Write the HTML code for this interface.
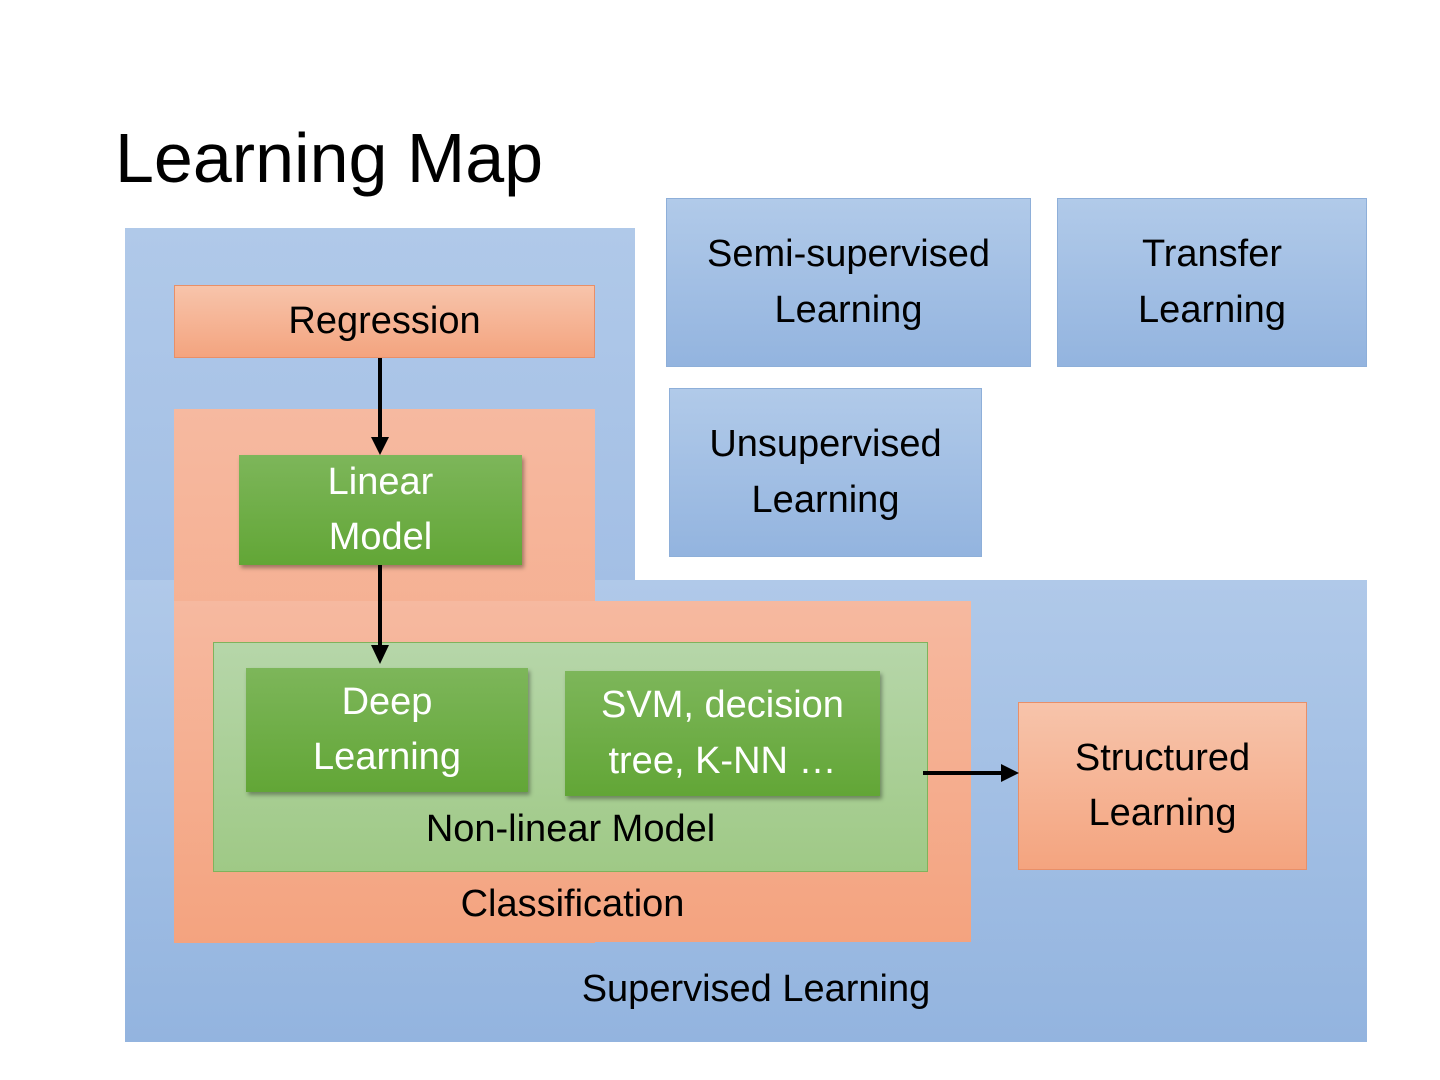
<!DOCTYPE html>
<html><head><style>
body{margin:0;width:1440px;height:1080px;background:#fff;position:relative;overflow:hidden;font-family:"Liberation Sans",sans-serif;}
.a{position:absolute;box-sizing:border-box;}
.t{display:flex;align-items:center;justify-content:center;text-align:center;line-height:1.45;font-size:38px;color:#000;}
.blue{background:linear-gradient(#b1cae9,#93b4df);border:1px solid #8eafd9;}
.or{background:linear-gradient(#f7c4ab,#f4a47f);border:1px solid #e88f68;}
.gr{background:linear-gradient(#7db65a,#62a636);color:#fff;box-shadow:2px 3px 4px rgba(0,0,0,.35);}
.lbl{position:absolute;font-size:38px;color:#000;white-space:nowrap;}
</style></head><body>
<div class="lbl" style="left:115px;top:118px;font-size:70px;">Learning Map</div>
<div class="a" style="left:125px;top:228px;width:510px;height:353px;background:linear-gradient(#b0c9e9,#a3bfe5);"></div>
<div class="a" style="left:125px;top:580px;width:1242px;height:462px;background:linear-gradient(#b0c9e9,#93b4df);"></div>
<div class="a t or" style="left:174px;top:285px;width:421px;height:73px;">Regression</div>
<div class="a" style="left:174px;top:409px;width:421px;height:534px;background:linear-gradient(#f6b9a0,#f4a37f);"></div>
<div class="a" style="left:174px;top:601px;width:797px;height:341px;background:linear-gradient(#f6b9a0,#f4a37f);"></div>
<div class="a t gr" style="left:239px;top:455px;width:283px;height:110px;">Linear<br>Model</div>
<div class="a" style="left:213px;top:642px;width:715px;height:230px;background:linear-gradient(#b6d6a9,#9fc986);border:1px solid #7fb35c;"></div>
<div class="a t gr" style="left:246px;top:668px;width:282px;height:124px;">Deep<br>Learning</div>
<div class="a t gr" style="left:565px;top:671px;width:315px;height:125px;">SVM, decision<br>tree, K-NN …</div>
<div class="lbl" style="left:213px;width:715px;text-align:center;top:808px;">Non-linear Model</div>
<div class="lbl" style="left:174px;width:797px;text-align:center;top:883px;">Classification</div>
<div class="lbl" style="left:125px;width:1262px;text-align:center;top:968px;">Supervised Learning</div>
<div class="a t or" style="left:1018px;top:702px;width:289px;height:168px;">Structured<br>Learning</div>
<div class="a t blue" style="left:666px;top:198px;width:365px;height:169px;">Semi-supervised<br>Learning</div>
<div class="a t blue" style="left:1057px;top:198px;width:310px;height:169px;">Transfer<br>Learning</div>
<div class="a t blue" style="left:669px;top:388px;width:313px;height:169px;">Unsupervised<br>Learning</div>
<svg class="a" style="left:0;top:0" width="1440" height="1080">
<g stroke="#000" stroke-width="4" fill="#000">
<line x1="380" y1="358" x2="380" y2="438"/><polygon points="371,437 389,437 380,455" stroke="none"/>
<line x1="380" y1="565" x2="380" y2="646"/><polygon points="371,645 389,645 380,664" stroke="none"/>
<line x1="923" y1="773" x2="1002" y2="773"/><polygon points="1001,764 1001,782 1019,773" stroke="none"/>
</g></svg>
</body></html>
